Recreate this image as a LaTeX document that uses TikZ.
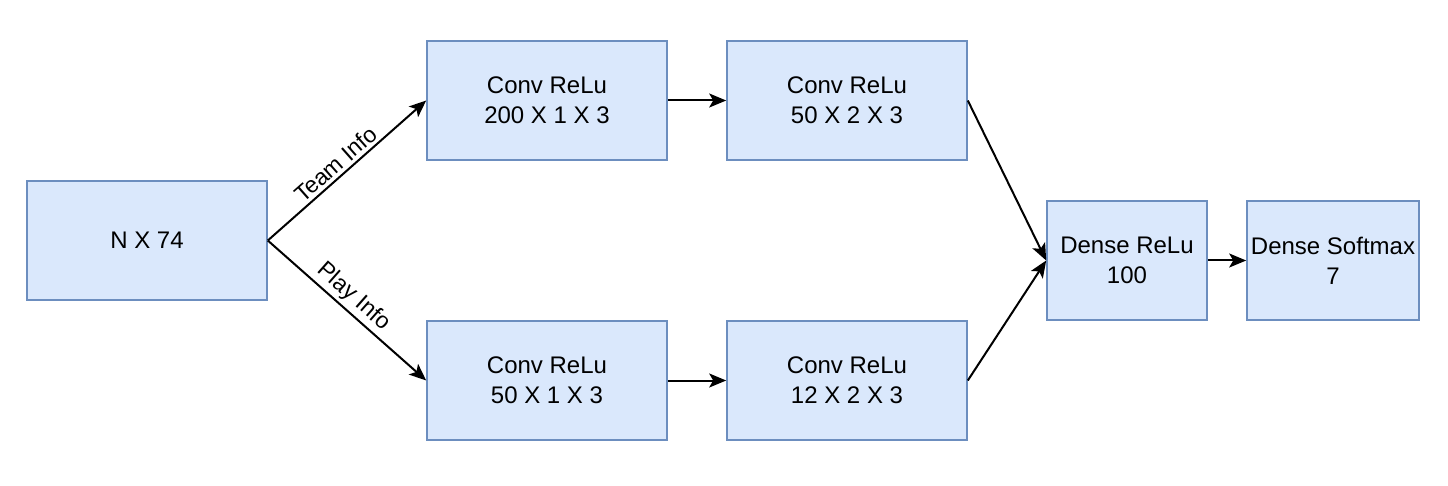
\documentclass[tikz,border=0pt]{standalone}
\usepackage{fontspec}
\setmainfont{Liberation Sans}
\usetikzlibrary{arrows.meta}
\definecolor{boxfill}{HTML}{DAE8FC}
\definecolor{boxdraw}{HTML}{6C8EBF}
\begin{document}
\begin{tikzpicture}[x=1pt,y=-1pt,
  blk/.style={draw=boxdraw,fill=boxfill,line width=1.6pt,minimum height=119pt,inner sep=0pt,align=center,font=\fontsize{24}{30}\selectfont},
  conn/.style={line width=2pt,-{Stealth[length=17pt,width=14pt,inset=4pt]}},
  lbl/.style={font=\fontsize{23}{26}\selectfont,inner sep=3pt}]
\useasboundingbox (0,0) rectangle (1448,486);
\node[blk,minimum width=240pt] (in) at (147,240.5) {N X 74};
\node[blk,minimum width=240pt] (c1) at (547,100.5) {Conv ReLu\\200 X 1 X 3};
\node[blk,minimum width=240pt] (c2) at (847,100.5) {Conv ReLu\\50 X 2 X 3};
\node[blk,minimum width=240pt] (c3) at (547,380.5) {Conv ReLu\\50 X 1 X 3};
\node[blk,minimum width=240pt] (c4) at (847,380.5) {Conv ReLu\\12 X 2 X 3};
\node[blk,minimum width=160pt] (d1) at (1127,260.5) {Dense ReLu\\100};
\node[blk,minimum width=172pt] (d2) at (1333,260.5) {Dense Softmax\\7};
\draw[conn] (in.east) -- node[lbl,sloped,above,pos=0.48] {Team Info} (c1.west);
\draw[conn] (in.east) -- node[lbl,sloped,above,pos=0.48] {Play Info} (c3.west);
\draw[conn] (c1.east) -- (c2.west);
\draw[conn] (c3.east) -- (c4.west);
\draw[conn] (c2.east) -- (d1.west);
\draw[conn] (c4.east) -- (d1.west);
\draw[conn] (d1.east) -- (d2.west);
\end{tikzpicture}
\end{document}
